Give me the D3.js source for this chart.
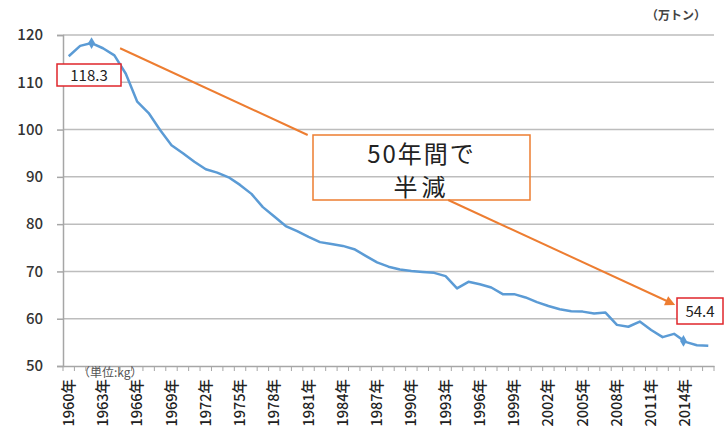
<!DOCTYPE html>
<html><head><meta charset="utf-8">
<script src="https://cdn.jsdelivr.net/npm/d3@7"></script>
<style>body{margin:0;background:#fff}svg{display:block}</style>
</head><body>
<svg id="c" width="727" height="430"></svg>
<script>
const years = d3.range(1960, 2017);
const values = [115.5,117.7,118.3,117.2,115.7,111.8,105.9,103.5,99.9,96.7,
  95.0,93.2,91.6,90.9,89.9,88.3,86.4,83.6,81.6,79.6,
  78.5,77.3,76.2,75.8,75.4,74.7,73.3,71.9,71.0,70.4,
  70.1,69.9,69.7,69.0,66.4,67.8,67.3,66.6,65.2,65.2,
  64.5,63.5,62.7,62.0,61.6,61.5,61.1,61.3,58.7,58.3,
  59.4,57.6,56.1,56.8,55.1,54.4,54.3];
const yTicks = [50,60,70,80,90,100,110,120];
const labelYears = d3.range(1960, 2017, 3);
const peak = {year:1962, label:"118.3"};
const endLabel = {text:"54.4"};
const annotationLines = ["50年間で","半減"];
const unitLeft = "（単位:kg）";
const unitRight = "（万トン）";

const svg = d3.select("#c");
const F = "'Noto Sans CJK JP','Noto Sans',sans-serif";
const x = d3.scaleBand().domain(years).range([63, 714]).padding(0);
const y = d3.scaleLinear().domain([50,120]).range([366, 35]);
const xi = i => x.range()[0] + (i + 0.5) * x.step();

// grid
svg.append("g").selectAll("line").data(yTicks.filter(t=>t>50)).join("line")
  .attr("x1",63).attr("x2",714).attr("y1",d=>y(d)).attr("y2",d=>y(d))
  .attr("stroke","#bdbdbd").attr("stroke-width",1.5);

// y axis
const ya = svg.append("g").attr("transform","translate(63,0)")
  .call(d3.axisLeft(y).tickValues(yTicks).tickSize(6).tickPadding(14));
ya.select(".domain").attr("stroke","#a6a6a6").attr("stroke-width",1.5);
ya.selectAll(".tick line").attr("stroke","#a6a6a6").attr("stroke-width",1.5);
ya.selectAll("text").attr("font-family",F).attr("font-size",15).attr("font-weight",500).attr("fill","#333");

// x axis
const xa = svg.append("g").attr("transform","translate(0,366)")
  .call(d3.axisBottom(x).tickValues(years).tickSize(0).tickFormat(""));
xa.select(".domain").attr("stroke","#a6a6a6").attr("stroke-width",1.5);
xa.selectAll(".tick").remove();
svg.append("g").selectAll("line").data(d3.range(years.length+1)).join("line")
  .attr("x1",i=>x.range()[0]+i*x.step()).attr("x2",i=>x.range()[0]+i*x.step())
  .attr("y1",366).attr("y2",371).attr("stroke","#a6a6a6").attr("stroke-width",1);
svg.append("g").selectAll("text").data(labelYears).join("text")
  .attr("transform",d=>`translate(${x(d)+x.bandwidth()/2+5},379) rotate(-90)`)
  .attr("text-anchor","end").attr("font-family",F).attr("font-size",14.5).attr("font-weight",500).attr("fill","#222")
  .text(d=>d+"年");

// line
svg.append("path").datum(values)
  .attr("fill","none").attr("stroke","#5b9bd5").attr("stroke-width",2.5).attr("stroke-linejoin","round")
  .attr("d", d3.line().x((d,i)=>x(years[i])+x.bandwidth()/2).y(d=>y(d)));
// markers
const pi = years.indexOf(peak.year);
svg.append("path").attr("d",d3.symbol(d3.symbolDiamond,40)())
  .attr("transform",`translate(${xi(pi)},${y(values[pi])})`).attr("fill","#5b9bd5");
const mi = years.indexOf(2014);
svg.append("path").attr("d",d3.symbol(d3.symbolDiamond,40)())
  .attr("transform",`translate(${xi(mi)-2},${y(values[mi])-1})`).attr("fill","#5b9bd5");

// orange arrow (start and end in data space)
const p0 = [xi(4.5), y(117.2)], p1 = [xi(53.1), y(62.9)];
const bx0 = 313, bx1 = 530, by0 = 135, by1 = 200;
const tAt = yy => (yy - p0[1])/(p1[1]-p0[1]);
const ptAt = t => [p0[0]+(p1[0]-p0[0])*t, p0[1]+(p1[1]-p0[1])*t];
const a = ptAt(tAt(by0)), b = ptAt(tAt(by1));
const og = svg.append("g").attr("stroke","#ed7d31").attr("stroke-width",2).attr("fill","none");
og.append("line").attr("x1",p0[0]).attr("y1",p0[1]).attr("x2",a[0]).attr("y2",a[1]);
og.append("line").attr("x1",b[0]).attr("y1",b[1]).attr("x2",p1[0]-4).attr("y2",p1[1]-2);
const ang = Math.atan2(p1[1]-p0[1], p1[0]-p0[0]);
const ah = 10, aw = 5;
const tri = [[p1[0],p1[1]],
 [p1[0]-ah*Math.cos(ang)+aw*Math.sin(ang), p1[1]-ah*Math.sin(ang)-aw*Math.cos(ang)],
 [p1[0]-ah*Math.cos(ang)-aw*Math.sin(ang), p1[1]-ah*Math.sin(ang)+aw*Math.cos(ang)]];
svg.append("path").attr("d","M"+tri.join("L")+"Z").attr("fill","#ed7d31");
svg.append("rect").attr("x",bx0).attr("y",by0).attr("width",bx1-bx0).attr("height",by1-by0)
  .attr("fill","none").attr("stroke","#ed7d31").attr("stroke-width",1.5);
svg.append("text").attr("x",(bx0+bx1)/2).attr("y",by0+28).attr("text-anchor","middle")
  .attr("font-family",F).attr("font-size",24).attr("letter-spacing",2).attr("fill","#222").text(annotationLines[0]);
svg.append("text").attr("x",(bx0+bx1)/2).attr("y",by0+61).attr("text-anchor","middle")
  .attr("font-family",F).attr("font-size",24).attr("letter-spacing",4).attr("fill","#222").text(annotationLines[1]);

// data label boxes
svg.append("rect").attr("x",57).attr("y",64).attr("width",64).attr("height",22)
  .attr("fill","#fff").attr("stroke","#e0262b").attr("stroke-width",1.5);
svg.append("text").attr("x",89).attr("y",81).attr("text-anchor","middle")
  .attr("font-family",F).attr("font-size",15).attr("fill","#222").text(peak.label);
svg.append("rect").attr("x",677).attr("y",298).attr("width",46).attr("height",26)
  .attr("fill","#fff").attr("stroke","#e0262b").attr("stroke-width",1.5);
svg.append("text").attr("x",700).attr("y",317).attr("text-anchor","middle")
  .attr("font-family",F).attr("font-size",15).attr("fill","#222").text(endLabel.text);

// units
svg.append("text").attr("x",78).attr("y",377).attr("font-family",F).attr("font-size",12)
  .attr("fill","#555").text(unitLeft);
svg.append("text").attr("x",706).attr("y",20).attr("text-anchor","end").attr("font-family",F)
  .attr("font-size",12).attr("font-weight","bold").attr("fill","#444").text(unitRight);
</script>
</body></html>
